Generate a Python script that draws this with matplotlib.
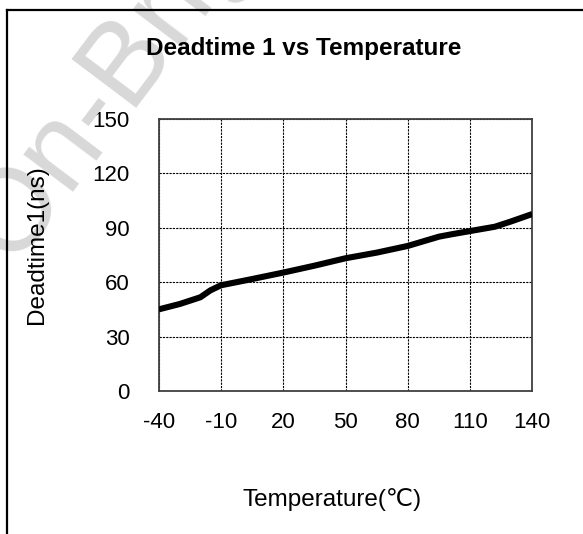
import matplotlib
matplotlib.use("Agg")
import matplotlib.pyplot as plt
from matplotlib.lines import Line2D

plt.rcParams['font.family'] = ['Liberation Sans', 'DejaVu Sans', 'Noto Sans CJK SC']

# Data
x_tick_labels = ["-40", "-10", "20", "50", "80", "110", "140"]
y_ticks = [0, 30, 60, 90, 120, 150]
# curve positions along the category axis (index of tick label) and values in ns
curve_pos = [0.0, 0.34, 0.67, 0.83, 1.0, 1.48, 2.0, 2.5, 3.0, 3.5, 4.0, 4.5, 4.7, 5.0, 5.4, 5.65, 6.0]
deadtime_ns = [45.0, 48.0, 51.7, 55.5, 58.3, 61.6, 65.3, 69.1, 73.2, 76.3, 80.0, 85.1, 86.4, 88.2, 90.6, 93.4, 97.6]

W, H = 583, 534
fig = plt.figure(figsize=(W / 100, H / 100), dpi=100)
fig.patch.set_facecolor('white')

# watermark
fig.text(12 / W, 1 - 266 / H, "On-Bright", fontsize=84, fontweight='normal',
         color='#d8d8d8', rotation=53, rotation_mode='anchor', ha='left', va='baseline', zorder=0)

# frame lines (top and left)
fig.add_artist(Line2D([7 / W, 1.0], [1 - 10 / H, 1 - 10 / H], color='black', lw=1.6, transform=fig.transFigure))
fig.add_artist(Line2D([7 / W, 7 / W], [0, 1 - 10 / H], color='black', lw=1.6, transform=fig.transFigure))

ax = fig.add_axes([158.7 / W, 1 - 391 / H, (532.3 - 158.7) / W, (391 - 119) / H])
ax.set_facecolor('none')
ax.plot(curve_pos, deadtime_ns, color='black', lw=4.4, solid_capstyle='butt', solid_joinstyle='round', zorder=3)

ax.set_xlim(0, len(x_tick_labels) - 1)
ax.set_ylim(0, 150)
ax.set_xticks(range(len(x_tick_labels)))
ax.set_xticklabels(x_tick_labels)
ax.set_yticks(y_ticks)
ax.tick_params(axis='both', length=0, labelsize=16, colors='black')
ax.tick_params(axis='y', pad=21)
ax.tick_params(axis='x', pad=15)
ax.grid(True, color='black', lw=0.8, linestyle=(0, (2, 1)))
for s in ax.spines.values():
    s.set_color('#404040')
    s.set_linewidth(1.3)

fig.text(304 / W, 1 - 49 / H, "Deadtime 1 vs Temperature", fontsize=17.5, fontweight='bold',
         ha='center', va='center')
fig.text(37 / W, 1 - 245 / H, "Deadtime1(ns)", fontsize=17.5, rotation=90, ha='center', va='center')
fig.text(332.5 / W, 1 - 500 / H, "Temperature(℃)", fontsize=17.5, ha='center', va='center')

fig.savefig("out.png", dpi=100, facecolor='white')
